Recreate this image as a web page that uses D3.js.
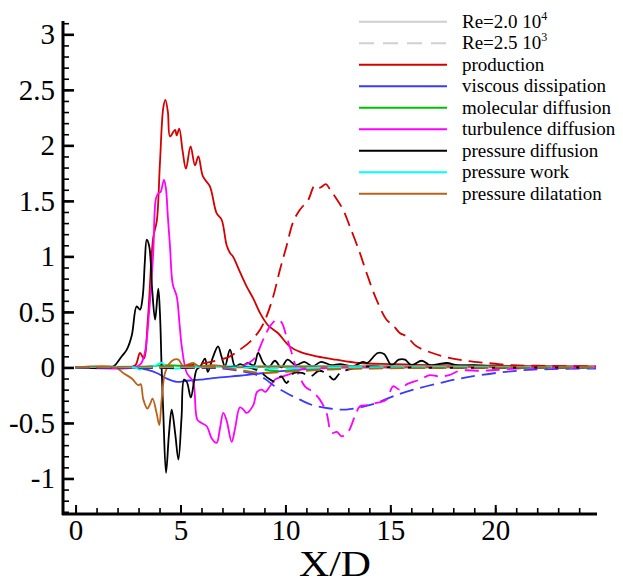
<!DOCTYPE html>
<html>
<head>
<meta charset="utf-8">
<script src="https://cdn.jsdelivr.net/npm/d3@7"></script>
<style>
  body { margin: 0; background: #fff; }
  svg text { font-family: "Liberation Serif", "Times New Roman", serif; }
</style>
</head>
<body>
<svg id="chart" width="623" height="580"></svg>
<script>
// Re = 2.0 10^4 (solid) -- [X/D, value]
var productionHi = [[0,0],[2.5,0],[2.85,0.02],[3.07,0.13],[3.25,0.08],[3.45,0.45],[3.7,1.17],[3.87,1.32],[4.02,1.84],[4.18,2.34],[4.28,2.41],[4.4,2.3],[4.5,2.08],[4.74,2.14],[4.82,2.09],[4.94,2.15],[5.1,1.95],[5.26,1.79],[5.48,1.99],[5.69,1.82],[5.85,1.9],[6.07,1.72],[6.4,1.63],[6.72,1.39],[6.96,1.33],[7.2,1.1],[7.36,1.03],[7.5,1.0],[7.83,0.86],[8.15,0.73],[8.47,0.62],[8.79,0.49],[9.17,0.38],[9.64,0.31],[10.2,0.19],[10.7,0.14],[11.5,0.1],[12.4,0.07],[13.5,0.04],[15,0.03],[17,0.02],[20,0.015],[24.8,0.01]];
var viscousHi = [[0,0],[2.6,0],[2.9,-0.005],[3.39,-0.02],[3.87,-0.05],[4.34,-0.1],[4.82,-0.13],[5.3,-0.12],[5.93,-0.11],[6.88,-0.09],[7.8,-0.075],[8.5,-0.06],[9.26,-0.045],[10.3,-0.025],[11.3,-0.01],[12.5,0],[24.8,0]];
var molecularHi = [[0,0],[3,0],[3.6,0.01],[4.2,0.02],[5,0.015],[6,0.01],[8,0.005],[24.8,0]];
var turbulenceHi = [[0,0],[2.8,0],[3.1,0.03],[3.3,0.13],[3.5,0.49],[3.7,1.03],[3.83,1.52],[3.95,1.57],[4.05,1.58],[4.21,1.69],[4.3,1.62],[4.4,1.35],[4.5,1.09],[4.63,0.75],[4.82,0.64],[4.95,0.4],[5.06,0.19],[5.3,-0.05],[5.6,-0.13],[5.8,-0.47],[6.0,-0.5],[6.25,-0.53],[6.49,-0.64],[6.72,-0.68],[6.88,-0.55],[7.04,-0.41],[7.2,-0.48],[7.44,-0.67],[7.6,-0.55],[7.83,-0.36],[8.0,-0.38],[8.15,-0.41],[8.47,-0.34],[8.65,-0.22],[8.87,-0.2],[9.05,-0.22],[9.26,-0.17],[9.5,-0.11],[9.9,-0.08],[10.36,-0.05],[10.7,-0.02],[11.5,-0.01],[13,0],[24.8,0]];
var pressureDiffHi = [[0,0],[1.7,0],[1.88,0.02],[2.2,0.1],[2.44,0.16],[2.68,0.29],[2.91,0.55],[3.07,0.52],[3.2,0.64],[3.3,0.95],[3.39,1.15],[3.51,1.09],[3.65,0.7],[3.79,0.43],[3.94,0.71],[4.02,0.49],[4.1,0.0],[4.18,-0.41],[4.31,-0.95],[4.45,-0.6],[4.58,-0.38],[4.75,-0.6],[4.9,-0.83],[5.05,-0.45],[5.17,-0.11],[5.3,-0.13],[5.49,-0.27],[5.65,-0.12],[5.77,-0.02],[5.95,0.01],[6.17,0.08],[6.3,-0.04],[6.56,0.1],[6.79,0.19],[6.95,0.1],[7.12,0.01],[7.36,0.16],[7.6,0.01],[7.85,0.03],[8.0,0.02],[8.2,0.04],[8.5,0.02],[8.7,0.13],[8.95,0.04],[9.2,0.0],[9.5,0.06],[9.8,0.0],[10.1,0.07],[10.5,0.02],[10.9,0.05],[11.3,0.01],[11.7,0.05],[12.2,0.02],[12.6,0.03],[13.2,0.01],[13.7,0.05],[13.9,0.04],[14.4,0.13],[14.7,0.12],[15.06,0.02],[15.4,0.07],[15.7,0.07],[16.0,0.02],[16.5,0.06],[16.9,0.02],[17.3,0.03],[17.7,0.04],[18.2,0.02],[19,0.02],[20,0.01],[24.8,0.005]];
var pressureWorkHi = [[0,0],[2.8,0],[3.07,-0.02],[3.3,0.0],[3.6,0.01],[3.85,0.02],[4.02,0.04],[4.15,0.04],[4.34,0.0],[4.6,-0.01],[5.5,0.0],[7,0.01],[24.8,0.005]];
var dilatationHi = [[0,0],[1.9,0],[2.27,-0.05],[2.68,-0.1],[2.99,-0.16],[3.1,-0.15],[3.23,-0.29],[3.42,-0.37],[3.55,-0.33],[3.67,-0.28],[3.86,-0.41],[3.99,-0.52],[4.1,-0.29],[4.26,-0.05],[4.45,0.03],[4.69,0.07],[4.9,0.07],[5.13,0.01],[5.4,0.03],[5.6,0.04],[5.9,0.01],[6.5,0.02],[7.5,0.0],[9,0.01],[24.8,0]];

// Re = 2.5 10^3 (dashed)
var productionLo = [[0,0],[4,0],[5.5,0.02],[6.88,0.07],[7.36,0.1],[7.83,0.16],[8.31,0.23],[8.79,0.34],[9.1,0.46],[9.42,0.64],[9.74,0.88],[10.05,1.09],[10.37,1.31],[10.69,1.42],[11.09,1.51],[11.4,1.64],[11.65,1.62],[11.93,1.65],[12.1,1.61],[12.36,1.54],[12.75,1.42],[13.07,1.27],[13.55,1.03],[13.87,0.85],[14.34,0.61],[14.82,0.43],[15.13,0.38],[15.45,0.31],[15.77,0.28],[16.25,0.19],[17.0,0.13],[17.7,0.09],[18.6,0.06],[19.6,0.04],[20.8,0.02],[22,0.015],[24.8,0.01]];
var viscousLo = [[0,0],[5,0],[7,-0.01],[8.5,-0.06],[9.0,-0.1],[9.42,-0.16],[10.05,-0.23],[10.69,-0.29],[11.3,-0.34],[12.12,-0.37],[12.9,-0.38],[13.55,-0.36],[14.34,-0.32],[15.13,-0.26],[16.1,-0.2],[17.36,-0.14],[18.31,-0.1],[19.26,-0.07],[20.5,-0.04],[21.8,-0.02],[24.8,-0.01]];
var molecularLo = [[0,0],[8,0],[9.5,-0.03],[10.5,-0.03],[11.5,-0.02],[13,-0.01],[24.8,0]];
var turbulenceLo = [[0,0],[6,0],[7.83,0.01],[8.47,0.07],[8.94,0.25],[9.26,0.37],[9.58,0.43],[9.8,0.41],[10.05,0.28],[10.3,0.13],[10.6,-0.05],[10.93,-0.17],[11.3,-0.22],[11.64,-0.29],[11.96,-0.41],[12.2,-0.59],[12.45,-0.58],[12.68,-0.62],[12.99,-0.58],[13.31,-0.44],[13.55,-0.35],[13.87,-0.34],[14.34,-0.32],[14.82,-0.29],[15.13,-0.17],[15.45,-0.2],[15.8,-0.15],[16.4,-0.11],[16.88,-0.07],[17.3,-0.08],[17.8,-0.07],[18.3,-0.03],[19.5,-0.03],[21,-0.01],[24.8,0]];
var pressureDiffLo = [[0,0],[7,0],[8,0.01],[8.7,-0.03],[9.2,-0.1],[9.5,-0.13],[9.8,-0.08],[10.05,-0.14],[10.4,-0.05],[10.8,-0.05],[11.2,-0.08],[11.6,-0.03],[12.0,-0.06],[12.3,-0.11],[12.6,-0.05],[13.0,-0.02],[13.5,0.0],[14,0.01],[15,0.0],[24.8,0]];
var pressureWorkLo = [[0,0],[8,0],[10,-0.01],[12,0.0],[24.8,0]];
var dilatationLo = [[0,0],[7,0],[8,-0.03],[9,-0.05],[10,-0.04],[11,-0.03],[12,-0.02],[14,-0.01],[24.8,0]];

var termNames = ["production", "viscous dissipation", "molecular diffusion", "turbulence diffusion", "pressure diffusion", "pressure work", "pressure dilatation"];
var termColors = ["#d40000", "#3a3aff", "#00c000", "#ff00ff", "#000000", "#00ffff", "#b8621b"];
var hiSeries = [productionHi, viscousHi, molecularHi, turbulenceHi, pressureDiffHi, pressureWorkHi, dilatationHi];
var loSeries = [productionLo, viscousLo, molecularLo, turbulenceLo, pressureDiffLo, pressureWorkLo, dilatationLo];

var xMajor = [0, 5, 10, 15, 20];
var yMajor = [-1, -0.5, 0, 0.5, 1, 1.5, 2, 2.5, 3];

var serif = "'Liberation Serif', 'Times New Roman', serif";
var svg = d3.select("#chart");

// skalaer
var x = d3.scaleLinear().domain([-0.6, 24.85]).range([63, 597]);
var y = d3.scaleLinear().domain([-1.32, 3.12]).range([514, 21]);

var line = d3.line()
    .x(function(d) { return x(d[0]); })
    .y(function(d) { return y(d[1]); })
    .curve(d3.curveCatmullRom.alpha(0.5));

// kurver: først Re=2.0e4 (fuldt optrukket), så Re=2.5e3 (stiplet)
var curves = svg.append("g");
hiSeries.forEach(function(s, i) {
    curves.append("path")
        .attr("d", line(s))
        .attr("fill", "none")
        .attr("stroke", termColors[i])
        .attr("stroke-width", 1.8);
});
loSeries.forEach(function(s, i) {
    curves.append("path")
        .attr("d", line(s))
        .attr("fill", "none")
        .attr("stroke", termColors[i])
        .attr("stroke-width", 1.8)
        .attr("stroke-dasharray", "14,7");
});

// akser
var fmt = function(d) { return String(d); };

var yAxisMinor = svg.append("g").attr("transform", "translate(63,0)")
    .call(d3.axisLeft(y).tickValues(d3.range(-13, 32).map(function(v) { return v / 10; })).tickSize(-6).tickFormat(""));
var yAxisMajor = svg.append("g").attr("transform", "translate(63,0)")
    .call(d3.axisLeft(y).tickValues(yMajor).tickSize(-11).tickPadding(8).tickFormat(fmt));

var xAxisMinor = svg.append("g").attr("transform", "translate(0,514)")
    .call(d3.axisBottom(x).tickValues(d3.range(0, 25)).tickSize(-6).tickFormat(""));
var xAxisMajor = svg.append("g").attr("transform", "translate(0,514)")
    .call(d3.axisBottom(x).tickValues(xMajor).tickSize(-9).tickPadding(5).tickFormat(fmt));

[yAxisMinor, yAxisMajor, xAxisMinor, xAxisMajor].forEach(function(g) {
    g.attr("font-family", serif).attr("font-size", 29);
    g.select(".domain").remove();
    g.selectAll(".tick line").attr("stroke", "#000").attr("stroke-width", 1.6);
    g.selectAll("text").attr("fill", "#000").style("font-size", "29px");
});
yAxisMajor.selectAll(".tick line").attr("stroke-width", 2.6);
xAxisMajor.selectAll(".tick line").attr("stroke-width", 2);

// aksestreger
svg.append("line").attr("x1", 63).attr("x2", 63).attr("y1", 21).attr("y2", 515)
    .attr("stroke", "#000").attr("stroke-width", 3);
svg.append("line").attr("x1", 62).attr("x2", 597).attr("y1", 514).attr("y2", 514)
    .attr("stroke", "#000").attr("stroke-width", 3);

svg.append("text")
    .attr("x", 335).attr("y", 576)
    .attr("text-anchor", "middle")
    .attr("font-family", serif)
    .attr("textLength", 72)
    .attr("lengthAdjust", "spacingAndGlyphs")
    .style("font-size", "36px")
    .text("X/D");

// legende
var legend = svg.append("g").attr("font-family", serif);
var legendRows = [
    { color: "#cfcfcf", dash: null, label: "Re=2.0 10", sup: "4" },
    { color: "#cfcfcf", dash: "15,9", label: "Re=2.5 10", sup: "3" }
];
termNames.forEach(function(n, i) {
    legendRows.push({ color: termColors[i], dash: null, label: n, sup: null });
});

legendRows.forEach(function(d, i) {
    var yy = 21.7 + i * 21.5;
    legend.append("line")
        .attr("x1", 359).attr("x2", 447)
        .attr("y1", yy).attr("y2", yy)
        .attr("stroke", d.color)
        .attr("stroke-width", 2)
        .attr("stroke-dasharray", d.dash);
    var t = legend.append("text")
        .attr("x", 462).attr("y", yy + 6)
        .style("font-size", "19px")
        .attr("fill", "#000")
        .text(d.label);
    if (d.sup) {
        t.append("tspan")
            .attr("dy", -8)
            .style("font-size", "12px")
            .text(d.sup);
    }
});
</script>
</body>
</html>
